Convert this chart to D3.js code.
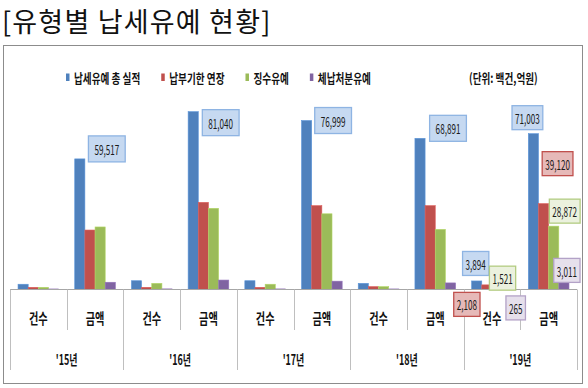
<!DOCTYPE html>
<html>
<head>
<meta charset="utf-8">
<script src="https://cdn.jsdelivr.net/npm/d3@7"></script>
<style>
  body { margin: 0; background: #fff; }
  text { font-family: "Noto Sans CJK KR", "Noto Sans", sans-serif; }
</style>
</head>
<body>
<script>
// chart data
var years = ["'15년", "'16년", "'17년", "'18년", "'19년"];
var kinds = ["건수", "금액"];
var seriesNames = ["납세유예 총 실적", "납부기한 연장", "징수유예", "체납처분유예"];
// one value per category: '15 건수, '15 금액, '16 건수, ...
var totalVals    = [2400, 59517, 4000, 81040, 4000, 76999, 2800, 68891, 3894, 71003];
var deadlineVals = [1000, 27100, 1000, 39700, 1000, 38200, 1300, 38200, 2108, 39120];
var collectVals  = [1000, 28500, 2800, 37000, 2400, 34500, 1300, 27400, 1521, 28872];
var dispoVals    = [250, 3300, 280, 4300, 270, 3800, 260, 3000, 265, 3011];
// which bars carry a value callout
var labelCat = [1, 3, 5, 7, 8, 8, 8, 8, 9, 9, 9, 9];
var labelSer = [0, 0, 0, 0, 0, 1, 2, 3, 0, 1, 2, 3];
var unitText = "(단위: 백건,억원)";
var titleText = "[유형별 납세유예 현황]";

var seriesVals = [totalVals, deadlineVals, collectVals, dispoVals];

// layout / style
var W = 588, H = 388;
var colors = ["#4f81bd", "#c0504d", "#9bbb59", "#8064a2"];
var boxFill = ["#c6d9f1", "#e6b9b8", "#ebf1de", "#e6e0ec"];
var boxStroke = ["#8eb4e3", "#c0504d", "#b3cc82", "#b3a2c7"];
// callout box centre offset from the bar's top centre (hand placed in the original)
var labelNudge = [[27, -10], [27.5, 11], [26.5, 0], [28, -10],
                  [-1, -17.5], [-20, 19.5], [5.5, -8], [8.5, 19],
                  [-6, -16], [14, -40], [11, -15], [3, -12.5]];
var squeeze = 0.74;   // the original chart text is horizontally condensed

var svg = d3.select("body").append("svg")
    .attr("width", W)
    .attr("height", H);

// title
svg.append("text")
    .attr("x", 2)
    .attr("y", 32)
    .attr("font-size", 27)
    .attr("letter-spacing", 1.2)
    .attr("fill", "#111")
    .text(titleText);

// chart frame
svg.append("rect")
    .attr("x", 3.5).attr("y", 45.5)
    .attr("width", 579).attr("height", 338)
    .attr("fill", "#fff")
    .attr("stroke", "#8c8c8c");

var plot = {left: 10, right: 577, base: 289.5};

var cats = d3.range(totalVals.length);
var x = d3.scaleBand()
    .domain(cats)
    .range([plot.left, plot.right])
    .padding(0);

var xs = d3.scaleBand()
    .domain(d3.range(seriesNames.length))
    .range([0, x.bandwidth()])
    .paddingInner(0)
    .paddingOuter(0.79);

var y = d3.scaleLinear()
    .domain([0, 90000])
    .range([plot.base, plot.base - 197.5]);

function condensed(sel, px, py, sx) {
  sel.attr("transform", "translate(" + px + "," + py + ") scale(" + sx + ",1)");
}

// bars
var bars = [];
cats.forEach(function(c) {
  seriesVals.forEach(function(vals, s) {
    bars.push({c: c, s: s, v: vals[c]});
  });
});

svg.append("g").selectAll("rect")
    .data(bars)
    .enter().append("rect")
    .attr("x", function(d) { return x(d.c) + xs(d.s); })
    .attr("y", function(d) { return y(d.v); })
    .attr("width", xs.bandwidth())
    .attr("height", function(d) { return plot.base - y(d.v); })
    .attr("fill", function(d) { return colors[d.s]; })
    .attr("stroke", function(d) { return d3.color(colors[d.s]).brighter(0.4); })
    .attr("stroke-width", 0.6);

// category axis
var axis = svg.append("g").attr("stroke", "#bfbfbf").attr("stroke-width", 1);
axis.append("line")
    .attr("x1", plot.left).attr("x2", plot.right)
    .attr("y1", plot.base).attr("y2", plot.base)
    .attr("stroke", "#a6a6a6");
d3.range(totalVals.length + 1).forEach(function(i) {
  var px = Math.round(i < totalVals.length ? x(i) : plot.right) + 0.5;
  axis.append("line")
      .attr("x1", px).attr("x2", px)
      .attr("y1", plot.base)
      .attr("y2", i % 2 === 0 ? 370 : 330);
});

svg.append("g").selectAll("text")
    .data(cats)
    .enter().append("text")
    .attr("text-anchor", "middle")
    .attr("dominant-baseline", "central")
    .attr("font-size", 15)
    .attr("font-weight", "bold")
    .attr("fill", "#111")
    .text(function(c) { return kinds[c % 2]; })
    .each(function(c) {
      condensed(d3.select(this), x(c) + x.bandwidth() / 2, 318, 0.68);
    });

svg.append("g").selectAll("text")
    .data(years)
    .enter().append("text")
    .attr("text-anchor", "middle")
    .attr("dominant-baseline", "central")
    .attr("font-size", 14)
    .attr("font-weight", "bold")
    .attr("fill", "#111")
    .text(function(d) { return d; })
    .each(function(d, i) {
      condensed(d3.select(this), x(2 * i + 1), 358, 0.64);
    });

// value callouts
var fmt = d3.format(",");
labelCat.forEach(function(c, k) {
  var s = labelSer[k];
  var v = seriesVals[s][c];
  var cx = x(c) + xs(s) + xs.bandwidth() / 2 + labelNudge[k][0];
  var cy = y(v) + labelNudge[k][1];
  var g = svg.append("g");
  var t = g.append("text")
      .attr("text-anchor", "middle")
      .attr("dominant-baseline", "central")
      .attr("font-size", 14)
      .attr("fill", "#1a1a1a")
      .text(fmt(v));
  condensed(t, cx, cy, 0.58);
  var tw = t.node().getComputedTextLength() * 0.58;
  var bw = tw + (k < 4 ? 12 : 6), bh = k < 4 ? 26 : 24;
  g.insert("rect", "text")
      .attr("x", cx - bw / 2).attr("y", cy - bh / 2)
      .attr("width", bw).attr("height", bh)
      .attr("fill", boxFill[s])
      .attr("stroke", boxStroke[s])
      .attr("stroke-width", 1.3);
});

// legend
var legend = svg.append("g");
var lx = 66;
seriesNames.forEach(function(name, i) {
  legend.append("rect")
      .attr("x", lx).attr("y", 73.5)
      .attr("width", 3.5).attr("height", 7.5)
      .attr("fill", colors[i]);
  var t = legend.append("text")
      .attr("dominant-baseline", "central")
      .attr("font-size", 13)
      .attr("font-weight", "bold")
      .attr("fill", "#111")
      .text(name);
  condensed(t, lx + 8, 77.5, squeeze);
  lx += 8 + t.node().getComputedTextLength() * squeeze + 21;
});

var unit = svg.append("text")
    .attr("dominant-baseline", "central")
    .attr("font-size", 13)
    .attr("font-weight", "bold")
    .attr("fill", "#111")
    .text(unitText);
condensed(unit, 469, 77.5, squeeze);
</script>
</body>
</html>
